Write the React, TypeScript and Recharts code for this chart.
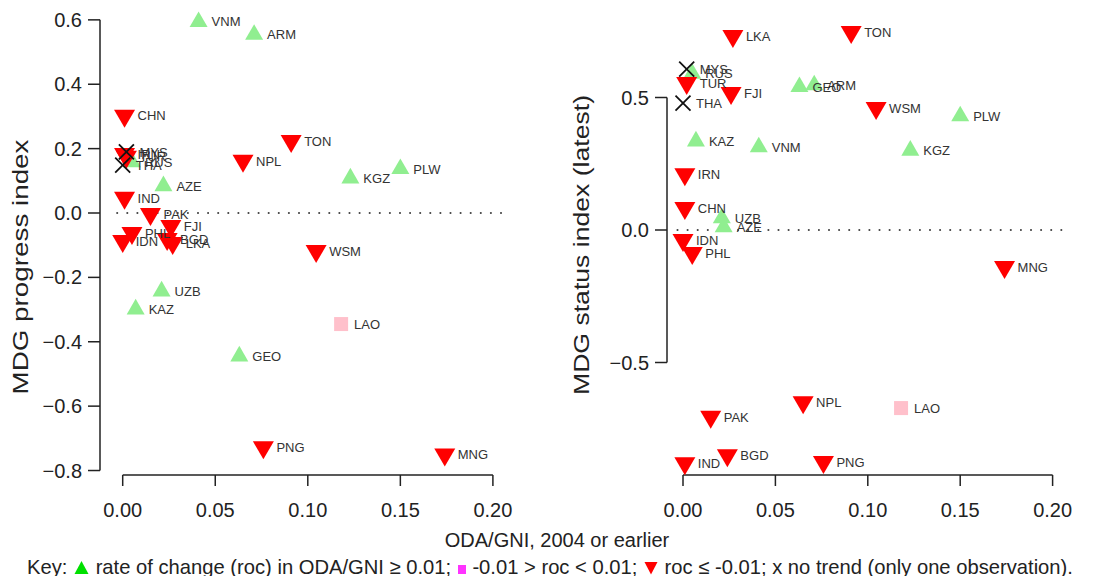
import React from 'react'
import { ScatterChart, Scatter, XAxis, YAxis, ReferenceLine } from 'recharts'

// country codes, one row per country
const countries = ['ARM', 'AZE', 'BGD', 'CHN', 'FJI', 'GEO', 'IDN', 'IND', 'IRN', 'KAZ', 'KGZ', 'LAO', 'LKA', 'MNG', 'MYS', 'NPL', 'PAK', 'PHL', 'PLW', 'PNG', 'RUS', 'THA', 'TON', 'TUR', 'UZB', 'VNM', 'WSM']
// ODA/GNI, 2004 or earlier (x in both panels)
const odaGni = [0.071, 0.022, 0.024, 0.001, 0.026, 0.063, 0.0, 0.001, 0.001, 0.007, 0.123, 0.118, 0.027, 0.174, 0.002, 0.065, 0.015, 0.005, 0.15, 0.076, 0.005, 0.0, 0.091, 0.002, 0.021, 0.041, 0.1045]
// MDG progress index (left panel)
const progressIndex = [0.554, 0.084, -0.081, 0.302, -0.04, -0.445, -0.087, 0.047, 0.183, -0.299, 0.108, -0.345, -0.093, -0.75, 0.19, 0.162, -0.003, -0.062, 0.137, -0.728, 0.158, 0.149, 0.224, 0.175, -0.243, 0.594, -0.118]
// MDG status index, latest (right panel)
const statusIndex = [0.547, 0.011, -0.85, 0.083, 0.517, 0.54, -0.038, -0.88, 0.21, 0.335, 0.3, -0.672, 0.732, -0.14, 0.607, -0.65, -0.705, -0.087, 0.43, -0.875, 0.59, 0.479, 0.747, 0.555, 0.045, 0.313, 0.46]
// rate of change class: up >= 0.01, flat, down <= -0.01, none = one observation
const rocClass = ['up', 'up', 'down', 'down', 'down', 'up', 'down', 'down', 'down', 'up', 'up', 'flat', 'down', 'down', 'none', 'down', 'down', 'down', 'up', 'down', 'up', 'none', 'down', 'down', 'up', 'up', 'down']

const xTicks = [0, 0.05, 0.1, 0.15, 0.2]
const progressTicks = [-0.8, -0.6, -0.4, -0.2, 0, 0.2, 0.4, 0.6]
const statusTicks = [-0.5, 0, 0.5]

const FONT = '"Liberation Sans", Arial, Helvetica, sans-serif'
const INK = '#222'
const drawOrder = ['up', 'flat', 'down', 'none']

const buildRows = (ys: number[]) =>
  countries
    .map((code, i) => ({ code, x: odaGni[i], y: ys[i], roc: rocClass[i] }))
    .sort((a, b) => drawOrder.indexOf(a.roc) - drawOrder.indexOf(b.roc))

const fmt = (v: number, d: number) => (v < 0 ? '\u2212' + Math.abs(v).toFixed(d) : v.toFixed(d))

const Marker = (props: any) => {
  const { cx, cy, payload } = props
  if (cx == null || cy == null) return null
  if (payload.roc === 'up') {
    const w = 18, h = 15.6
    return <polygon points={`${cx},${cy - (2 * h) / 3} ${cx + w / 2},${cy + h / 3} ${cx - w / 2},${cy + h / 3}`} fill="#90ee90" />
  }
  if (payload.roc === 'down') {
    const w = 21, h = 18
    return <polygon points={`${cx},${cy + (2 * h) / 3} ${cx + w / 2},${cy - h / 3} ${cx - w / 2},${cy - h / 3}`} fill="#ff0000" />
  }
  if (payload.roc === 'flat') {
    return <rect x={cx - 7} y={cy - 7} width={14} height={14} fill="#ffc0cb" />
  }
  const r = 7.5
  return (
    <g stroke="#111" strokeWidth={1.8}>
      <line x1={cx - r} y1={cy - r} x2={cx + r} y2={cy + r} />
      <line x1={cx - r} y1={cy + r} x2={cx + r} y2={cy - r} />
    </g>
  )
}

const CodeLabel = (props: any) => {
  const { cx, cy, payload } = props
  if (cx == null || cy == null) return null
  return (
    <text x={cx + 13} y={cy} dy="0.36em" fontSize={13} fill="#333" fontFamily={FONT}>
      {payload.code}
    </text>
  )
}

interface PanelProps {
  left: number
  width: number
  axisX: number // page x of the y axis line
  zeroX: number // page x of ODA/GNI = 0
  xPerUnit: number
  zeroY: number // page y of index = 0
  yPerUnit: number
  ys: number[]
  yTicks: number[]
  title: string
  titleX: number
  titleY: number
  titleLen: number
}

const PLOT_TOP = 8
const PLOT_BOTTOM = 475
const X_AXIS_H = 50
const X_MAX = 0.209

const Panel = ({ left, width, axisX, zeroX, xPerUnit, zeroY, yPerUnit, ys, yTicks, title, titleX, titleY, titleLen }: PanelProps) => {
  const yAxisW = axisX - left
  const xMin = -(zeroX - axisX) / xPerUnit
  const plotW = (X_MAX - xMin) * xPerUnit
  const yMin = -(PLOT_BOTTOM - zeroY) / yPerUnit
  const yMax = (zeroY - PLOT_TOP) / yPerUnit
  const data = buildRows(ys)
  const tx = titleX - left
  return (
    <div style={{ position: 'absolute', left, top: 0 }}>
      <ScatterChart
        width={width}
        height={576}
        margin={{ top: PLOT_TOP, right: width - yAxisW - plotW, bottom: 576 - PLOT_BOTTOM - X_AXIS_H, left: 0 }}
      >
        <XAxis
          type="number"
          dataKey="x"
          domain={[xMin, X_MAX]}
          allowDataOverflow
          ticks={xTicks}
          interval={0}
          tickFormatter={(v: number) => fmt(v, 2)}
          axisLine={false}
          tickLine={{ stroke: INK, strokeWidth: 1.5 }}
          tickSize={11}
          tickMargin={17}
          height={X_AXIS_H}
          tick={{ fontSize: 20, fill: INK, fontFamily: FONT }}
        />
        <YAxis
          type="number"
          dataKey="y"
          domain={[yMin, yMax]}
          allowDataOverflow
          ticks={yTicks}
          interval={0}
          tickFormatter={(v: number) => fmt(v, 1)}
          axisLine={false}
          tickLine={{ stroke: INK, strokeWidth: 1.5 }}
          tickSize={12}
          tickMargin={6}
          width={yAxisW}
          tick={{ fontSize: 20, fill: INK, fontFamily: FONT }}
        />
        <ReferenceLine
          segment={[{ x: 0, y: yMin }, { x: 0.2, y: yMin }]}
          stroke={INK}
          strokeWidth={1.5}
          ifOverflow="visible"
        />
        <ReferenceLine
          segment={[{ x: xMin, y: yTicks[0] }, { x: xMin, y: yTicks[yTicks.length - 1] }]}
          stroke={INK}
          strokeWidth={1.5}
          ifOverflow="visible"
        />
        <ReferenceLine
          segment={[{ x: -0.003, y: 0 }, { x: X_MAX, y: 0 }]}
          stroke="#444"
          strokeWidth={2}
          strokeDasharray="0.1 10"
          strokeLinecap="round"
          ifOverflow="visible"
        />
        <Scatter data={data} shape={<Marker />} isAnimationActive={false} />
        <Scatter data={data} shape={<CodeLabel />} isAnimationActive={false} />
      </ScatterChart>
      <svg width={width} height={576} style={{ position: 'absolute', left: 0, top: 0, pointerEvents: 'none' }}>
        <text
          x={tx}
          y={titleY}
          transform={`rotate(-90 ${tx} ${titleY})`}
          textAnchor="middle"
          dominantBaseline="central"
          fontSize={22}
          fill={INK}
          fontFamily={FONT}
          textLength={titleLen}
          lengthAdjust="spacingAndGlyphs"
        >
          {title}
        </text>
      </svg>
    </div>
  )
}

const KeyUp = () => (
  <svg width={15} height={15} style={{ verticalAlign: '-1px', margin: '0 1px 0 1px' }}>
    <polygon points="7.5,1 14.5,14 0.5,14" fill="#00e000" />
  </svg>
)
const KeySquare = () => (
  <svg width={8} height={10} style={{ verticalAlign: '0px', margin: '0 1px 0 1px' }}>
    <rect x={0} y={1} width={8} height={9} fill="#ff33ff" />
  </svg>
)
const KeyDown = () => (
  <svg width={14} height={14} style={{ verticalAlign: '-1px', margin: '0 1px 0 1px' }}>
    <polygon points="0.5,1 13.5,1 7,13.5" fill="#ff0000" />
  </svg>
)

export default function App() {
  return (
    <div style={{ position: 'absolute', left: 0, top: 0, width: 1101, height: 576, background: '#fff', fontFamily: FONT, color: INK }}>
      <Panel
        left={0}
        width={540}
        axisX={100}
        zeroX={122.7}
        xPerUnit={1851}
        zeroY={213}
        yPerUnit={321.9}
        ys={progressIndex}
        yTicks={progressTicks}
        title="MDG progress index"
        titleX={20}
        titleY={267}
        titleLen={255}
      />
      <Panel
        left={560}
        width={541}
        axisX={667}
        zeroX={683}
        xPerUnit={1848}
        zeroY={230}
        yPerUnit={265}
        ys={statusIndex}
        yTicks={statusTicks}
        title="MDG status index (latest)"
        titleX={581}
        titleY={245}
        titleLen={300}
      />
      <div style={{ position: 'absolute', left: 557, top: 528, transform: 'translateX(-50%)', fontSize: 20, lineHeight: '24px', whiteSpace: 'nowrap' }}>
        ODA/GNI, 2004 or earlier
      </div>
      <div style={{ position: 'absolute', left: 27, top: 555, fontSize: 20.2, lineHeight: '24px', whiteSpace: 'nowrap' }}>
        Key:{' '}<KeyUp />{' '}rate of change (roc) in ODA/GNI ≥ 0.01;{' '}<KeySquare />{' '}-0.01 &gt; roc &lt; 0.01;{' '}<KeyDown />{' '}roc ≤ -0.01; x no trend (only one observation).
      </div>
    </div>
  )
}
